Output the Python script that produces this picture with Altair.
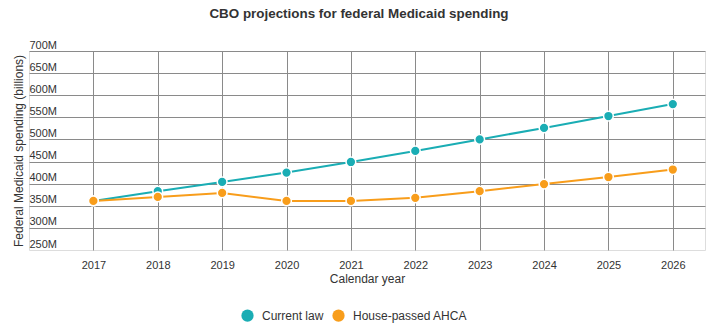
import altair as alt
import pandas as pd

years = list(range(2017, 2027))
current_law = [361, 383, 404, 425, 449, 474, 500, 526, 553, 580]
house_ahca = [361, 370, 379, 361, 361, 368, 383, 399, 415, 432]
series_names = ["Current law", "House-passed AHCA"]
series_colors = ["#1aadb4", "#f89d1b"]
y_ticks = [250, 300, 350, 400, 450, 500, 550, 600, 650, 700]

df = pd.DataFrame({
    "year": years + years,
    "value": current_law + house_ahca,
    "series": [series_names[0]] * len(years) + [series_names[1]] * len(years),
})

FONT = "Liberation Sans"
GRID = "#8a8a8a"

color = alt.Color(
    "series:N",
    scale=alt.Scale(domain=series_names, range=series_colors),
    sort=series_names,
    legend=alt.Legend(
        title=None,
        orient="none",
        direction="horizontal",
        legendX=212,
        legendY=258,
        symbolType="circle",
        symbolSize=150,
        symbolStrokeWidth=0,
        symbolOpacity=1,
        labelFontSize=12,
        labelFont=FONT,
        labelColor="#333333",
        labelOffset=8,
        columnPadding=8,
    ),
)

base = alt.Chart(df).encode(
    x=alt.X(
        "year:Q",
        scale=alt.Scale(domain=[2016, 2026.5], nice=False, zero=False),
        axis=alt.Axis(
            values=years,
            format="d",
            title="Calendar year",
            grid=True,
            gridColor=GRID,
            ticks=False,
            domain=False,
            labelPadding=9,
            labelFontSize=11,
            labelFont=FONT,
            labelColor="#333333",
            labelOverlap=False,
            titleFontSize=12,
            titleFont=FONT,
            titleFontWeight="normal",
            titleColor="#333333",
            titlePadding=3,
        ),
    ),
    y=alt.Y(
        "value:Q",
        scale=alt.Scale(domain=[250, 700], nice=False, zero=False),
        axis=alt.Axis(
            values=y_ticks,
            labelExpr="datum.value + 'M'",
            title="Federal Medicaid spending (billions)",
            grid=True,
            gridColor=GRID,
            gridOpacity={"condition": {"test": "datum.value == 250", "value": 0}, "value": 1},
            ticks=False,
            domain=False,
            labelAlign="left",
            labelBaseline="alphabetic",
            labelPadding=0,
            labelOffset=-3,
            labelFontSize=11,
            labelFont=FONT,
            labelColor="#333333",
            labelOverlap=False,
            titleFontSize=12,
            titleFont=FONT,
            titleFontWeight="normal",
            titleColor="#333333",
            titleX=-11,
            titleY=99.5,
            titleAlign="center",
            titleBaseline="middle",
            titleAngle=270,
        ),
    ),
    color=color,
)

lines = base.mark_line(strokeWidth=2)
points = base.mark_circle(size=95, opacity=1, stroke="white", strokeWidth=1.5)

chart = (
    alt.layer(lines, points)
    .properties(
        width=676,
        height=199,
        title=alt.Title(
            "CBO projections for federal Medicaid spending",
            fontSize=13.4,
            fontWeight="bold",
            font=FONT,
            color="#333333",
            anchor="middle",
            frame="group",
            offset=19,
            dx=-8,
        ),
        autosize=alt.AutoSizeParams(type="none"),
        padding={"left": 29, "top": 51, "right": 8, "bottom": 81},
    )
    .configure_view(strokeOpacity=0)
    .configure(background="white")
)

chart.save("out.html", embed_options={"renderer": "svg", "actions": False})
